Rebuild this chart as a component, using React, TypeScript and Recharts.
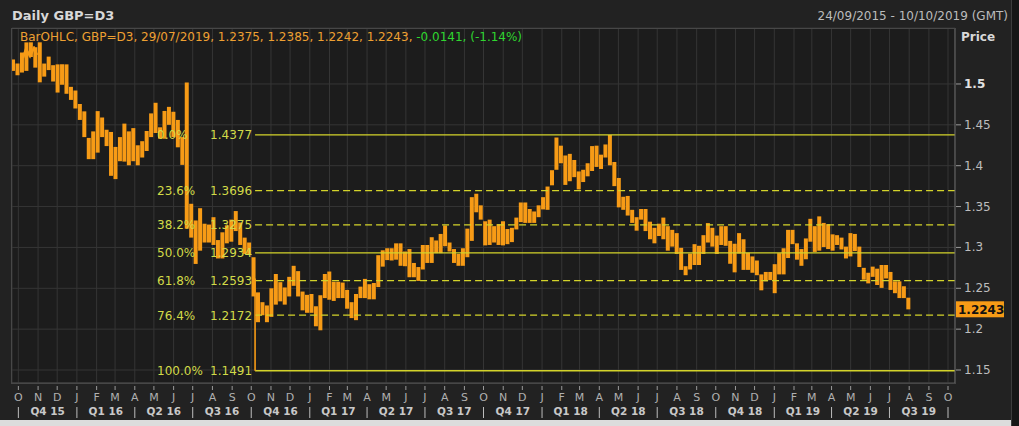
import { Bar, CartesianGrid, ComposedChart, ReferenceLine, XAxis, YAxis } from "recharts";

// weekly GBP=D3 ranges [low, high], one pair per week starting Monday 21/09/2015
const firstMonday = "2015-09-21";

const gbp2015 = [
  [1.516, 1.53], [1.5107, 1.525], [1.514, 1.5385], [1.516, 1.5509], [1.533, 1.551],
  [1.52, 1.545], [1.502, 1.551], [1.509, 1.525], [1.517, 1.5335], [1.503, 1.523],
  [1.4895, 1.524], [1.499, 1.524], [1.488, 1.524], [1.4805, 1.4965], [1.47, 1.492],
];

const gbp2016 = [
  [1.456, 1.4755], [1.435, 1.4665], [1.408, 1.434], [1.408, 1.442], [1.416, 1.4668],
  [1.435, 1.459], [1.424, 1.444], [1.3876, 1.4413], [1.3836, 1.423], [1.4055, 1.435],
  [1.405, 1.4515], [1.4005, 1.442], [1.4055, 1.446], [1.4005, 1.425], [1.41, 1.43],
  [1.418, 1.4425], [1.435, 1.464], [1.44, 1.477], [1.433, 1.447], [1.433, 1.467],
  [1.45, 1.472], [1.435, 1.466], [1.4225, 1.456], [1.401, 1.435], [1.3229, 1.5018],
  [1.312, 1.3534], [1.2798, 1.333], [1.296, 1.348], [1.306, 1.329], [1.306, 1.328],
  [1.303, 1.337], [1.2865, 1.309], [1.2865, 1.3185], [1.305, 1.327], [1.307, 1.334],
  [1.32, 1.3445], [1.303, 1.3305], [1.292, 1.312], [1.292, 1.306], [1.24, 1.288],
  [1.2085, 1.245], [1.217, 1.233], [1.2085, 1.229], [1.215, 1.25], [1.23, 1.2675],
  [1.234, 1.2575], [1.23, 1.251], [1.24, 1.264], [1.253, 1.2775], [1.24, 1.271],
  [1.223, 1.246], [1.22, 1.242],
];

const gbp2017 = [
  [1.22, 1.243], [1.2035, 1.228], [1.1986, 1.2415], [1.238, 1.2675], [1.236, 1.2705],
  [1.2345, 1.258], [1.238, 1.258], [1.238, 1.257], [1.225, 1.248], [1.2135, 1.233],
  [1.211, 1.243], [1.238, 1.252], [1.238, 1.2615], [1.2365, 1.255], [1.2365, 1.2565],
  [1.2515, 1.2905], [1.2765, 1.2965], [1.2845, 1.299], [1.284, 1.299], [1.285, 1.305],
  [1.2775, 1.305], [1.277, 1.295], [1.2635, 1.298], [1.2635, 1.281], [1.259, 1.276],
  [1.273, 1.303], [1.281, 1.303], [1.281, 1.3125], [1.293, 1.3085], [1.293, 1.3165],
  [1.3015, 1.3268], [1.295, 1.306], [1.281, 1.298], [1.2775, 1.292], [1.2775, 1.299],
  [1.288, 1.323], [1.308, 1.3615], [1.343, 1.3657], [1.334, 1.3515], [1.3025, 1.332],
  [1.303, 1.334], [1.306, 1.326], [1.303, 1.3285], [1.3025, 1.332], [1.304, 1.3225],
  [1.3065, 1.324], [1.322, 1.3365], [1.331, 1.355], [1.33, 1.355], [1.33, 1.347],
  [1.33, 1.344], [1.337, 1.3515],
];

const gbp2018 = [
  [1.3465, 1.3615], [1.346, 1.3745], [1.376, 1.3945], [1.395, 1.4345], [1.403, 1.4245],
  [1.3765, 1.4125], [1.381, 1.4145], [1.386, 1.407], [1.371, 1.393], [1.38, 1.395],
  [1.387, 1.403], [1.3935, 1.424], [1.3985, 1.4245], [1.396, 1.4135], [1.41, 1.426],
  [1.4005, 1.4377], [1.375, 1.4045], [1.349, 1.385], [1.346, 1.362], [1.339, 1.363],
  [1.33, 1.346], [1.3205, 1.337], [1.334, 1.347], [1.32, 1.347], [1.31, 1.3315],
  [1.305, 1.324], [1.314, 1.329], [1.31, 1.3365], [1.296, 1.326], [1.301, 1.3215],
  [1.292, 1.3175], [1.2725, 1.2995], [1.266, 1.277], [1.273, 1.2925], [1.2785, 1.304],
  [1.2785, 1.302], [1.292, 1.315], [1.306, 1.3298], [1.301, 1.324], [1.292, 1.3145],
  [1.303, 1.326], [1.302, 1.326], [1.28, 1.308], [1.2695, 1.3045], [1.2925, 1.3175],
  [1.2725, 1.31], [1.2725, 1.2935], [1.269, 1.289], [1.266, 1.284], [1.2475, 1.267],
  [1.2585, 1.27], [1.26, 1.27],
];

const gbp2019 = [
  [1.244, 1.2795], [1.267, 1.293], [1.267, 1.299], [1.287, 1.3215], [1.304, 1.3215],
  [1.285, 1.305], [1.2775, 1.298], [1.2855, 1.311], [1.307, 1.335], [1.2945, 1.326],
  [1.296, 1.338], [1.3005, 1.33], [1.298, 1.3285], [1.296, 1.316], [1.303, 1.315],
  [1.2975, 1.312], [1.2865, 1.301], [1.289, 1.3175], [1.2955, 1.3165], [1.276, 1.301],
  [1.2605, 1.275], [1.256, 1.269], [1.264, 1.2765], [1.254, 1.274], [1.2505, 1.2785],
  [1.262, 1.2785], [1.248, 1.27], [1.244, 1.2585], [1.238, 1.2585], [1.238, 1.2525],
  [1.2242, 1.2385],
];

// the 07/10/2016 flash-crash day, drawn as its own thin daily bar
const flashDay = { date: "2016-10-07", low: 1.1491, high: 1.262 };

const fibLevels = [1.4377, 1.3696, 1.3275, 1.2934, 1.2593, 1.2172, 1.1491];
const fibNames = ["0.0%", "23.6%", "38.2%", "50.0%", "61.8%", "76.4%", "100.0%"];
const fibDashed = [false, true, true, false, true, true, false];
const fibFrom = "2016-10-07";

const priceTicks = [1.15, 1.2, 1.25, 1.3, 1.35, 1.4, 1.45, 1.5];
const monthLetters = ["J", "F", "M", "A", "M", "J", "J", "A", "S", "O", "N", "D"];
const quarterNames = [
  "Q4 15", "Q1 16", "Q2 16", "Q3 16", "Q4 16", "Q1 17", "Q2 17", "Q3 17",
  "Q4 17", "Q1 18", "Q2 18", "Q3 18", "Q4 18", "Q1 19", "Q2 19", "Q3 19",
];

const lastBar = { date: "29/07/2019", open: 1.2375, high: 1.2385, low: 1.2242, close: 1.2243, change: -0.0141, pct: -1.14 };

const DAY = 86400000;
const origin = Date.UTC(2015, 9, 1);
const dayOf = (iso: string) => Math.round((Date.parse(iso + "T00:00:00Z") - origin) / DAY);
const xDomain = [dayOf("2015-09-21"), dayOf("2019-10-12")];

const weeks = [...gbp2015, ...gbp2016, ...gbp2017, ...gbp2018, ...gbp2019];
const rows = weeks.map(([lo, hi], i) => ({ t: dayOf(firstMonday) + 7 * i + 2, lo, hi }));

const monthTicks = Array.from({ length: 49 }, (_, i) => (Date.UTC(2015, 9 + i, 1) - origin) / DAY);
const quarterTicks = quarterNames.map(
  (_, i) => ((Date.UTC(2015, 9 + 3 * i, 1) + Date.UTC(2015, 12 + 3 * i, 1)) / 2 - origin) / DAY
);

const font = "DejaVu Sans";
const orange = "#f79b16";
const fibColor = "#d3d32a";

function MonthTick({ x, y, payload }: any) {
  const m = new Date(origin + payload.value * DAY).getUTCMonth();
  return (
    <g>
      <line x1={x} x2={x} y1={y + 3} y2={y + 7} stroke="#9a9a9a" />
      <text x={x} y={y + 18} textAnchor="middle" fill="#b0b0b0" fontSize={11}>
        {monthLetters[m]}
      </text>
      {m % 3 === 0 && <line x1={x} x2={x} y1={y + 24} y2={y + 35} stroke="#bdbdbd" />}
    </g>
  );
}

function QuarterTick({ x, y, index }: any) {
  return (
    <text x={x} y={y + 17} textAnchor="middle" fill="#c8c8c8" fontSize={10.5} fontWeight="bold">
      {quarterNames[index]}
    </text>
  );
}

function PriceTick({ x, y, payload }: any) {
  const major = payload.value === 1.5;
  return (
    <text x={x} y={y + 4} fill={major ? "#e2e2e2" : "#bdbdbd"} fontSize={12} fontWeight={major ? "bold" : "normal"}>
      {String(payload.value)}
    </text>
  );
}

function FibLabel({ viewBox, name, value }: any) {
  return (
    <g>
      <text x={viewBox.x - 98} y={viewBox.y + 4.5} fill="#d2da48" fontSize={12}>
        {name}
      </text>
      <text x={viewBox.x - 45} y={viewBox.y + 4.5} fill="#d2da48" fontSize={12}>
        {value.toFixed(4)}
      </text>
    </g>
  );
}

function LastTag({ viewBox }: any) {
  const x = viewBox.x + viewBox.width + 1;
  return (
    <g>
      <rect x={x} y={viewBox.y - 8} width={48} height={16} fill={orange} />
      <text x={x + 2} y={viewBox.y + 4.5} fill="#111" fontSize={12} fontWeight="bold">
        {lastBar.close.toFixed(4)}
      </text>
    </g>
  );
}

export default function App() {
  const head = `BarOHLC, GBP=D3, ${lastBar.date}, ${lastBar.open.toFixed(4)}, ${lastBar.high.toFixed(4)}, ${lastBar.low.toFixed(4)}, ${lastBar.close.toFixed(4)}, `;
  const chg = `${lastBar.change.toFixed(4)}, (${lastBar.pct.toFixed(2)}%)`;
  return (
    <div style={{ position: "absolute", left: 0, top: 0, width: 1019, height: 426, background: "#222222", overflow: "hidden", fontFamily: font }}>
      <div style={{ position: "absolute", left: 12, top: 8, fontSize: 13, fontWeight: "bold", color: "#d8d8d8", lineHeight: "16px" }}>
        Daily GBP=D3
      </div>
      <div style={{ position: "absolute", right: 11, top: 9, fontSize: 12, color: "#bcbcbc", lineHeight: "15px" }}>
        24/09/2015 - 10/10/2019 (GMT)
      </div>
      <div style={{ position: "absolute", left: 11, top: 28, width: 944, height: 355, background: "#1c1c1c" }} />
      <ComposedChart
        width={1019}
        height={426}
        data={rows}
        margin={{ top: 28, right: 0, bottom: 10, left: 12 }}
        style={{ position: "absolute", left: 0, top: 0, fontFamily: font }}
      >
        <CartesianGrid stroke="#353535" strokeWidth={1} />
        <XAxis
          dataKey="t"
          type="number"
          domain={xDomain}
          allowDataOverflow
          ticks={monthTicks}
          interval={0}
          height={15}
          tickSize={0}
          tickMargin={0}
          axisLine={{ stroke: "#4a4a4a" }}
          tick={<MonthTick />}
        />
        <XAxis
          xAxisId="q"
          dataKey="t"
          type="number"
          domain={xDomain}
          allowDataOverflow
          ticks={quarterTicks}
          interval={0}
          height={18}
          tickSize={0}
          tickMargin={0}
          axisLine={false}
          tick={<QuarterTick />}
        />
        <YAxis
          orientation="right"
          type="number"
          domain={[1.1341, 1.5685]}
          allowDataOverflow
          ticks={priceTicks}
          interval={0}
          width={64}
          tickSize={6}
          tickMargin={3}
          axisLine={{ stroke: "#6a6a6a" }}
          tickLine={{ stroke: "#9a9a9a" }}
          tick={<PriceTick />}
        />
        {fibLevels.map((lv, i) => (
          <ReferenceLine
            key={fibNames[i]}
            segment={[
              { x: dayOf(fibFrom), y: lv },
              { x: xDomain[1], y: lv },
            ]}
            stroke={fibColor}
            strokeWidth={1.3}
            strokeDasharray={fibDashed[i] ? "7 4" : undefined}
            label={(p: any) => <FibLabel viewBox={p.viewBox} name={fibNames[i]} value={lv} />}
          />
        ))}
        <ReferenceLine y={lastBar.close} stroke="none" label={(p: any) => <LastTag viewBox={p.viewBox} />} />
        <ReferenceLine
          segment={[
            { x: dayOf(flashDay.date), y: flashDay.low },
            { x: dayOf(flashDay.date), y: flashDay.high },
          ]}
          stroke={orange}
          strokeWidth={1.6}
        />
        <Bar dataKey={(d: any) => [d.lo, d.hi]} fill={orange} barSize={4} isAnimationActive={false} />
      </ComposedChart>
      <div style={{ position: "absolute", left: 11, top: 28, width: 943, height: 354, border: "1px solid #474747", pointerEvents: "none" }} />
      <div style={{ position: "absolute", left: 20, top: 30, fontSize: 12, lineHeight: "15px", whiteSpace: "nowrap" }}>
        <span style={{ color: "#eea032" }}>{head}</span>
        <span style={{ color: "#2fd62f" }}>{chg}</span>
      </div>
      <svg style={{ position: "absolute", left: 22, top: 46 }} width={16} height={14}>
        <polyline points="1,12 4,3 8,10 12,2 15,9" fill="none" stroke={orange} strokeWidth={2.5} />
      </svg>
      <div style={{ position: "absolute", left: 961, top: 30, fontSize: 12, fontWeight: "bold", color: "#d8d8d8", lineHeight: "15px" }}>
        Price
      </div>
      <div style={{ position: "absolute", left: 1011, top: 0, width: 8, height: 426, background: "#161616", borderLeft: "1px solid #3c3c3c" }} />
      <div style={{ position: "absolute", left: 0, top: 420, width: 1011, height: 6, background: "#dcdcdc" }} />
    </div>
  );
}
